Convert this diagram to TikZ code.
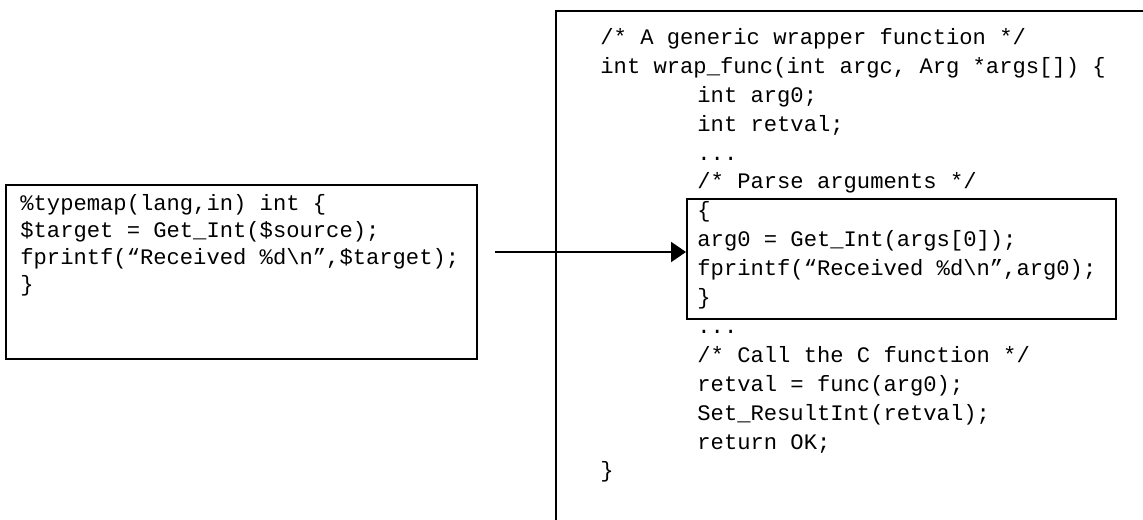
\documentclass[tikz,border=0pt]{standalone}
\usepackage{fontspec}
\setmonofont{Liberation Mono}
\usetikzlibrary{arrows.meta}
\newcommand{\codeindent}{\hspace*{48.5pt}}
\begin{document}
\begin{tikzpicture}[x=0.5pt,y=-0.5pt,
		codebox/.style={draw, line width=1.2pt, rectangle, inner sep=0pt},
		codetext/.style={align=left, inner sep=0pt, anchor=north west,
			font=\fontsize{11.08pt}{14.45pt}\selectfont\ttfamily}]
		\useasboundingbox (0,0) rectangle (1143,519);
		\clip (0,0) rectangle (1143,519);
		\node[codebox, anchor=north west, minimum width=235.5pt, minimum height=87pt] (typemap) at (5,184) {};
		\node[codetext, font=\fontsize{11.08pt}{13.5pt}\selectfont\ttfamily] (typemaptext) at (20,194) {\%typemap(lang,in) int \{\\
\$target = Get\_Int(\$source);\\
fprintf(“Received \%d\textbackslash n”,\$target);\\
\}};
		\node[codebox, anchor=north west, minimum width=310pt, minimum height=270pt, line width=1pt] (wrapper) at (555,10) {};
		\node[codetext] (wrappertext) at (600,28) {/* A generic wrapper function */\\
int wrap\_func(int argc, Arg *args[]) \{\\
\codeindent int arg0;\\
\codeindent int retval;\\
\codeindent ...\\
\codeindent /* Parse arguments */\\
\codeindent \{\\
\codeindent arg0 = Get\_Int(args[0]);\\
\codeindent fprintf(“Received \%d\textbackslash n”,arg0);\\
\codeindent \}\\
\codeindent ...\\
\codeindent /* Call the C function */\\
\codeindent retval = func(arg0);\\
\codeindent Set\_ResultInt(retval);\\
\codeindent return OK;\\
\}};
		\node[codebox, anchor=north west, minimum width=214.5pt, minimum height=60pt] (parse) at (686,198) {};
		\coordinate (arrowstart) at (495,252);
		\draw[line width=1pt, -{Triangle[length=7.5pt,width=10pt]}] (arrowstart) -- (arrowstart -| parse.west);
	\end{tikzpicture}
\end{document}
